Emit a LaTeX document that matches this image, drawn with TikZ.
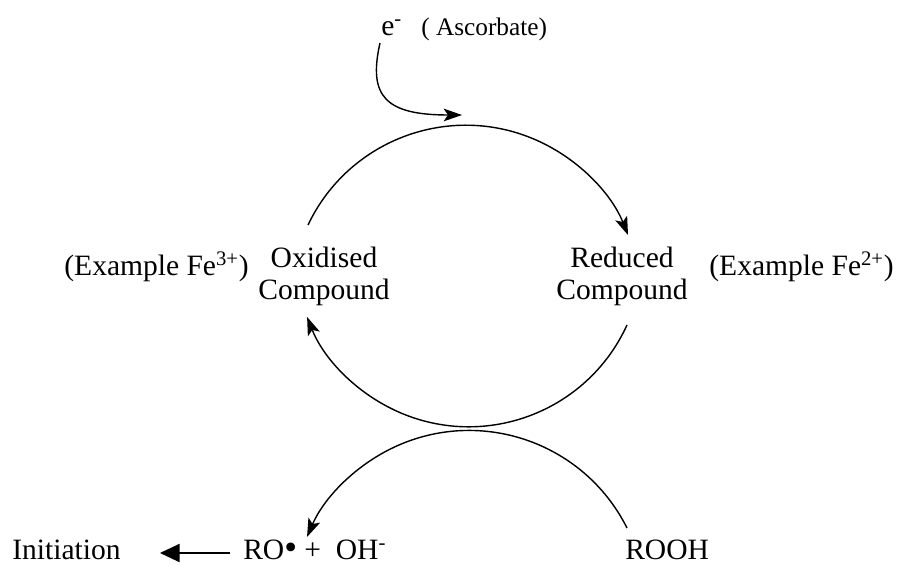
\documentclass[tikz,border=0pt]{standalone}
\usepackage{fontspec}
\setmainfont{Liberation Serif}
\usetikzlibrary{arrows.meta,calc}

\begin{document}
\begin{tikzpicture}[
    x=0.025cm, y=0.025cm,
    chem/.style={inner sep=0pt, font=\fontsize{21}{23}\selectfont},
    compound/.style={chem, align=center},
    donor/.style={inner sep=0pt, font=\fontsize{18}{20}\selectfont},
    cyc/.style={line width=1pt, -{Stealth[length=13pt,width=9pt,inset=3pt]}},
    push/.style={line width=1pt, -{Triangle[length=14pt,width=13pt]}}
]
\useasboundingbox (0,0) rectangle (897,566);

% Electron donor
\node[chem, anchor=base west] (elec) at (381,530) {e\textsuperscript{-}};
\node[donor, anchor=base west] (asc) at (421,530) {( Ascorbate)};

% Redox pair
\node[compound] (oxid) at (324,289.5) {Oxidised\\Compound};
\node[compound] (red) at (622,289.5) {Reduced\\Compound};
\node[chem, anchor=base] (fe3) at (156.5,290) {(Example Fe\textsuperscript{3+})};
\node[chem, anchor=base] (fe2) at (801.5,290) {(Example Fe\textsuperscript{2+})};

% Peroxide side
\node[chem, anchor=base west] (init) at (12,6) {Initiation};
\node[chem, anchor=base west] (ro) at (243,6) {RO{\fontsize{26}{26}\selectfont•}\ +\ \ OH\textsuperscript{-}};
\node[chem, anchor=base west] (rooh) at (625,6) {ROOH};

% Arc ends
\coordinate (cycin) at (462,451);
\coordinate (oxtop) at (308,341);
\coordinate (redbot) at (627,241);
\coordinate (roohtop) at (627,38);

% Arrows
\draw[cyc] ($(elec.base west)+(-1,-7)$) .. controls (368,470) and (385,451) .. (cycin);
\draw[cyc] (oxtop) arc[start angle=154.6, end angle=21.8, radius=174.7];
\draw[cyc] (redbot) arc[start angle=-24.5, end angle=-158.4, radius=173.9];
\draw[cyc] (roohtop) arc[start angle=26.6, end angle=156.6, radius=176.6];
\draw[push] ($(ro.base west)+(-13,7)$) -- ($(init.base west)+(148,7)$);

\end{tikzpicture}
\end{document}
